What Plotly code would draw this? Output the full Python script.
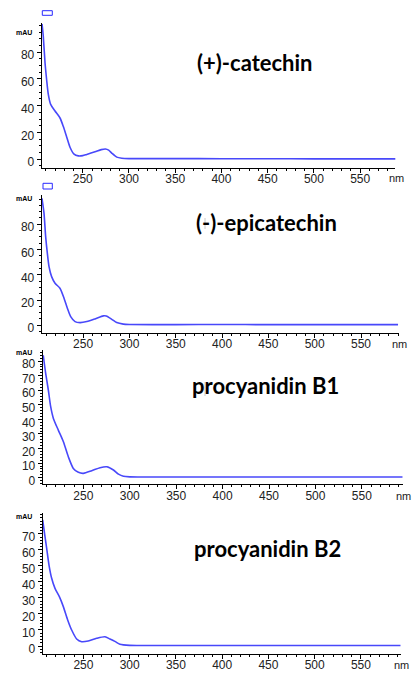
import plotly.graph_objects as go

W, H = 412, 673

# ---------------- data ----------------
wl_catechin = [206, 207.3, 209.2, 211, 212.7, 215.3, 220, 225.4, 229, 232.6, 236.2, 240.6, 245.2, 250,
               254.3, 263.3, 270, 274.5, 278, 281.3, 286.8, 292.2, 300, 350, 400, 450, 500, 550, 589]
abs_catechin = [101, 92, 72, 59, 48.7, 41, 36, 30.8, 24.4, 16.7, 9, 3.8, 2.5, 2.7,
                3.6, 5.6, 7.2, 7.7, 6.8, 4.6, 1.6, 0.8, 0.5, 0.5, 0.4, 0.4, 0.3, 0.3, 0.3]

wl_epicatechin = [205.6, 207.8, 209.6, 211.4, 213.2, 216, 219.7, 225, 229.4, 233, 236.6, 241.3, 246.7,
                  254, 262.9, 271.8, 275, 281, 286.3, 293.4, 300, 350, 400, 450, 500, 550, 590]
abs_epicatechin = [100.6, 88.7, 70, 57, 46.4, 38.5, 33.3, 29.3, 21.4, 13.5, 6.8, 2.9, 2.1,
                   2.9, 5, 7.4, 7.3, 4.7, 2.1, 0.9, 0.6, 0.5, 0.6, 0.5, 0.5, 0.5, 0.5]

wl_b1 = [206.8, 209.4, 212.3, 214.8, 217.7, 223, 228.5, 233.8, 239.2, 244.6, 250, 259, 268, 275.3,
         282.4, 287.8, 293.2, 300, 350, 400, 450, 500, 550, 594]
abs_b1 = [84, 71.6, 60, 48.7, 40.7, 32.7, 24.7, 14.4, 6.4, 3.7, 3, 4.8, 6.9, 7.5,
          5.3, 2.5, 1.0, 0.6, 0.5, 0.5, 0.5, 0.5, 0.5, 0.5]

wl_b2 = [206, 208.2, 210.3, 212.8, 215.7, 219.3, 224, 228.3, 233, 237.3, 242.7, 248.1, 255.2, 264.3,
         273.3, 278.7, 284, 289.5, 300, 350, 400, 450, 500, 550, 593]
abs_b2 = [78.8, 69.4, 61, 50.6, 42.3, 36, 30.8, 24.6, 16.3, 10, 4.4, 2.7, 3.1, 4.8,
          5.8, 4.4, 2.9, 1.1, 0.4, 0.3, 0.3, 0.3, 0.3, 0.3, 0.3]

names = ["(+)-catechin", "(-)-epicatechin", "procyanidin B1", "procyanidin B2"]
x_ticks = [250, 300, 350, 400, 450, 500, 550]
y_ticks_a = [0, 20, 40, 60, 80]
y_ticks_b = [0, 10, 20, 30, 40, 50, 60, 70, 80]
y_ticks_c = [0, 10, 20, 30, 40, 50, 60, 70]

series = [(wl_catechin, abs_catechin), (wl_epicatechin, abs_epicatechin), (wl_b1, abs_b1), (wl_b2, abs_b2)]

# ---------------- layout geometry (pixels) ----------------
panels = [
    dict(x0=41.7, x1=395.3, top=23.3, bot=167.7, xr=[205.6, 588], yr=[-6.3, 101.5], yt=y_ticks_a, minor=5,
         title=(315, 62), mau=32, nm=178.5),
    dict(x0=41.7, x1=398.7, top=195, bot=332.7, xr=[205.3, 590.7], yr=[-5.9, 103.2], yt=y_ticks_a, minor=5,
         title=(339, 223), mau=198, nm=343.5),
    dict(x0=42.7, x1=402.7, top=350, bot=484.3, xr=[206.2, 594], yr=[-4.5, 87.6], yt=y_ticks_b, minor=2,
         title=(341, 385), mau=352, nm=495.5),
    dict(x0=42.7, x1=400.7, top=513, bot=654, xr=[206, 593], yr=[-5, 83.1], yt=y_ticks_c, minor=2,
         title=(343, 548), mau=516, nm=665),
]

def px(x):
    return x / W

def py(y):
    return 1 - y / H

fig = go.Figure()
layout = dict(template="none", width=W, height=H, margin=dict(l=0, r=0, t=0, b=0, pad=0),
              paper_bgcolor="white", plot_bgcolor="white", showlegend=False, annotations=[], shapes=[])

tickfont = dict(family="Liberation Sans, Arial", size=12, color="#222222")
line_color = "rgb(72,72,250)"

for i, (p, (xs, ys)) in enumerate(zip(panels, series)):
    n = "" if i == 0 else str(i + 1)
    fig.add_trace(go.Scatter(x=xs, y=ys, mode="lines", xaxis="x" + n, yaxis="y" + n,
                             line=dict(color=line_color, width=1.6, shape="spline", smoothing=0.7),
                             hoverinfo="skip"))
    layout["xaxis" + n] = dict(domain=[px(p["x0"]), px(p["x1"])], range=p["xr"], anchor="y" + n,
                               automargin=False,
                               tickvals=x_ticks, ticks="outside", ticklen=4, tickcolor="black",
                               showline=True, linecolor="black", linewidth=1, showgrid=False,
                               zeroline=False, tickfont=tickfont, fixedrange=True,
                               ticklabelstandoff=-4,
                               minor=dict(dtick=10, tick0=0, ticks="outside", ticklen=2,
                                          tickcolor="black", showgrid=False))
    layout["yaxis" + n] = dict(domain=[py(p["bot"]), py(p["top"])], range=p["yr"], anchor="x" + n,
                               automargin=False,
                               tickvals=p["yt"], ticks="outside", ticklen=4, tickcolor="black",
                               showline=True, linecolor="black", linewidth=1, showgrid=False,
                               zeroline=False, tickfont=tickfont, fixedrange=True, ticklabelshift=3,
                               minor=dict(dtick=p["minor"], tick0=0, ticks="outside", ticklen=2,
                                          tickcolor="black", showgrid=False))
    tx, ty = p["title"]
    layout["annotations"].append(dict(text="<b>" + names[i] + "</b>", x=px(tx), y=py(ty),
                                      xref="paper", yref="paper", xanchor="right", yanchor="middle",
                                      showarrow=False,
                                      font=dict(family="Lato", size=22, color="black")))
    layout["annotations"].append(dict(text="<b>mAU</b>", x=px(24), y=py(p["mau"]), xref="paper",
                                      yref="paper", xanchor="center", yanchor="middle", showarrow=False,
                                      font=dict(family="Liberation Sans, Arial", size=7, color="black")))
    layout["annotations"].append(dict(text="nm", x=px(p["x1"] + 1), y=py(p["nm"]), xref="paper",
                                      yref="paper", xanchor="center", yanchor="middle", showarrow=False,
                                      font=dict(family="Liberation Sans, Arial", size=11, color="#222222")))

# small blue marker boxes above the first two panels
for (bx0, by0, bx1, by1) in [(42.3, 10.7, 52.3, 15.3), (43, 183.3, 52.3, 189)]:
    layout["shapes"].append(dict(type="rect", xref="paper", yref="paper", x0=px(bx0), x1=px(bx1),
                                 y0=py(by1), y1=py(by0), line=dict(color="rgb(40,40,255)", width=1),
                                 fillcolor="rgba(0,0,0,0)"))
# faint text-box edges
for (lx, ly0, ly1) in [(205, 218, 229), (205, 382, 396), (205, 545, 556)]:
    layout["shapes"].append(dict(type="line", xref="paper", yref="paper", x0=px(lx), x1=px(lx),
                                 y0=py(ly1), y1=py(ly0), line=dict(color="#c8c8c8", width=1)))

fig.update_layout(**layout)
fig.write_html("out.html")
